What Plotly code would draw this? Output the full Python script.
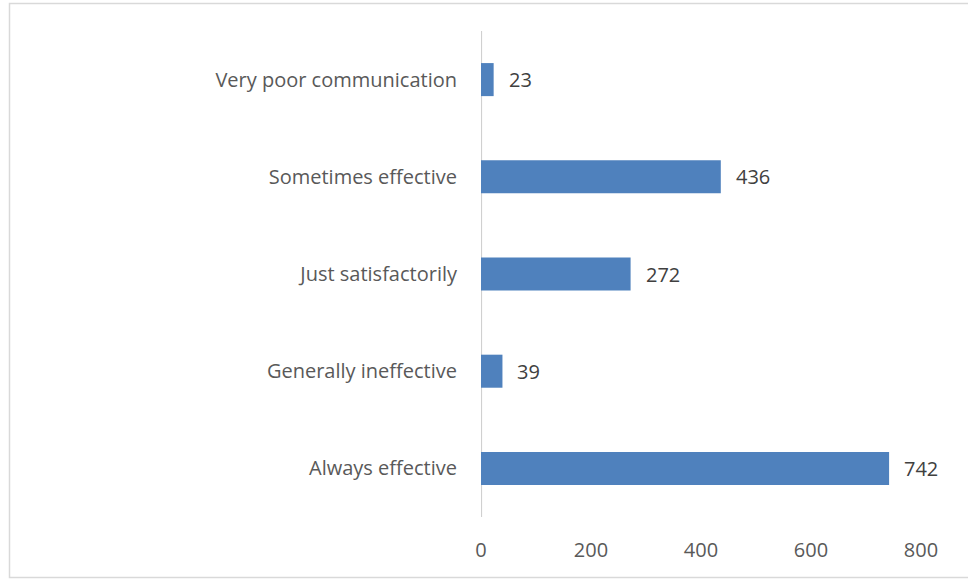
import plotly.graph_objects as go

categories = ["Always effective", "Generally ineffective", "Just satisfactorily",
              "Sometimes effective", "Very poor communication"]
values = [742, 39, 272, 436, 23]
x_ticks = [0, 200, 400, 600, 800]

W, H = 968, 579
L, R, T, B = 481, 47, 31, 62
pw, ph = W - L - R, H - T - B

def px_to_paper_x(p):
    return (p - L) / pw

def px_to_paper_y(p):
    return (H - B - p) / ph

FONT = "Open Sans"
FS = 20

fig = go.Figure()
fig.add_trace(go.Bar(
    y=categories, x=values, orientation="h",
    marker=dict(color="#4F81BD", line=dict(color="#4F81BD", width=0)),
    width=0.34, hoverinfo="skip",
))

for c, v in zip(categories, values):
    fig.add_annotation(x=v, y=c, text=str(v), showarrow=False,
                       xanchor="left", xshift=13,
                       font=dict(family=FONT, size=FS, color="#404040"))

fig.add_shape(type="rect", xref="paper", yref="paper",
              x0=px_to_paper_x(9.5), x1=px_to_paper_x(975),
              y0=px_to_paper_y(577.5), y1=px_to_paper_y(3.5),
              line=dict(color="#D9D9D9", width=1.5), layer="below")

fig.update_layout(
    width=W, height=H,
    margin=dict(l=L, r=R, t=T, b=B, pad=0),
    paper_bgcolor="white", plot_bgcolor="white",
    showlegend=False,
    font=dict(family=FONT, size=FS, color="#595959"),
    xaxis=dict(range=[0, 800], tickvals=x_ticks, showgrid=False, zeroline=False,
               showline=False, ticks="outside", ticklen=15, tickcolor="rgba(0,0,0,0)",
               tickfont=dict(size=FS, color="#595959")),
    yaxis=dict(categoryorder="array", categoryarray=categories, showgrid=False,
               zeroline=False, showline=False, ticks="outside", ticklen=19,
               tickcolor="rgba(0,0,0,0)", tickfont=dict(size=FS, color="#595959")),
)
fig.add_shape(type="line", xref="x", yref="paper", x0=0, x1=0, y0=0, y1=1,
              line=dict(color="#D0D0D0", width=2.2), layer="below")

fig.write_html("out.html", config={"displayModeBar": False},
               post_script="document.body.style.margin='0px';")
